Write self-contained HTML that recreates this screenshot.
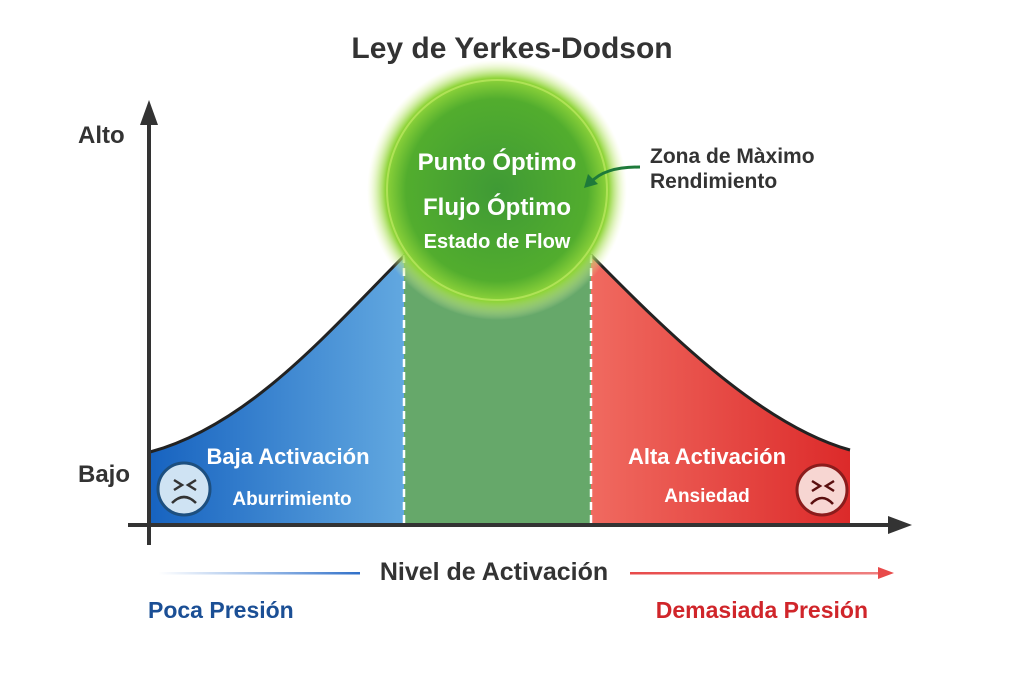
<!DOCTYPE html>
<html><head><meta charset="utf-8"><style>
body{margin:0;background:#fff;}
svg{display:block;font-family:"Liberation Sans",sans-serif;}
</style></head><body>
<svg width="1024" height="683" viewBox="0 0 1024 683">
<defs>
<linearGradient id="bl" x1="0" x2="1" y1="0" y2="0"><stop offset="0" stop-color="#1763c0"/><stop offset="1" stop-color="#62a8e0"/></linearGradient>
<linearGradient id="rd" x1="0" x2="1" y1="0" y2="0"><stop offset="0" stop-color="#f06a60"/><stop offset="1" stop-color="#dc2a2a"/></linearGradient>
<radialGradient id="gc" cx="0.5" cy="0.5" r="0.5"><stop offset="0" stop-color="#3f9a35"/><stop offset="0.7" stop-color="#52ad2e"/><stop offset="0.86" stop-color="#8fd43a"/><stop offset="1" stop-color="#e9f7b0" stop-opacity="0"/></radialGradient>
<linearGradient id="lb" gradientUnits="userSpaceOnUse" x1="158" y1="0" x2="360" y2="0"><stop offset="0" stop-color="#4a86d8" stop-opacity="0"/><stop offset="1" stop-color="#2f6fc8"/></linearGradient>
<linearGradient id="lr" gradientUnits="userSpaceOnUse" x1="630" y1="0" x2="880" y2="0"><stop offset="0" stop-color="#e84a4a"/><stop offset="1" stop-color="#e84a4a" stop-opacity="0.7"/></linearGradient>
</defs>
<text x="512" y="58" text-anchor="middle" font-size="30" font-weight="bold" fill="#333">Ley de Yerkes-Dodson</text>
<path d="M150,452 C250,425 330,330 405,255 L405,525 L150,525 Z" fill="url(#bl)"/>
<rect x="404" y="250" width="187" height="275" fill="#66a86a"/>
<path d="M591,255 C665,330 760,425 850,450 L850,525 L591,525 Z" fill="url(#rd)"/>
<path d="M150,452 C250,425 330,330 405,255" fill="none" stroke="#222" stroke-width="3"/>
<path d="M591,255 C665,330 760,425 850,450" fill="none" stroke="#222" stroke-width="3"/>
<line x1="404" y1="255" x2="404" y2="525" stroke="#fff" stroke-width="2.5" stroke-dasharray="8,5"/>
<line x1="591" y1="255" x2="591" y2="525" stroke="#fff" stroke-width="2.5" stroke-dasharray="8,5"/>
<circle cx="497" cy="190" r="130" fill="url(#gc)"/>
<circle cx="497" cy="190" r="110" fill="none" stroke="#c8ee6a" stroke-width="2" opacity="0.6"/>
<text x="497" y="170" text-anchor="middle" font-size="24" font-weight="bold" fill="#fff">Punto Óptimo</text>
<text x="497" y="215" text-anchor="middle" font-size="24" font-weight="bold" fill="#fff">Flujo Óptimo</text>
<text x="497" y="248" text-anchor="middle" font-size="20" font-weight="bold" fill="#fff">Estado de Flow</text>
<path d="M640,167 C615,167 600,172 590,183" fill="none" stroke="#1e7a3a" stroke-width="3"/>
<path d="M584,188 L588,174 L598,184 Z" fill="#1e7a3a"/>
<text x="650" y="163" font-size="21" font-weight="bold" fill="#333">Zona de Màximo</text>
<text x="650" y="188" font-size="21" font-weight="bold" fill="#333">Rendimiento</text>
<line x1="149" y1="545" x2="149" y2="115" stroke="#333" stroke-width="4"/>
<path d="M149,100 L140,125 L158,125 Z" fill="#333"/>
<line x1="128" y1="525" x2="895" y2="525" stroke="#333" stroke-width="4"/>
<path d="M912,525 L888,516 L888,534 Z" fill="#333"/>
<text x="78" y="143" font-size="24" font-weight="bold" fill="#333">Alto</text>
<text x="78" y="482" font-size="24" font-weight="bold" fill="#333">Bajo</text>
<text x="288" y="464" text-anchor="middle" font-size="22" font-weight="bold" fill="#fff">Baja Activación</text>
<text x="292" y="505" text-anchor="middle" font-size="19" font-weight="bold" fill="#fff">Aburrimiento</text>
<text x="707" y="464" text-anchor="middle" font-size="22" font-weight="bold" fill="#fff">Alta Activación</text>
<text x="707" y="502" text-anchor="middle" font-size="19" font-weight="bold" fill="#fff">Ansiedad</text>
<g>
<circle cx="184" cy="489" r="26" fill="#cfe3f3" stroke="#1d4f7f" stroke-width="3"/>
<path d="M174,480 l8,5 l-8,5 M196,480 l-8,5 l8,5 M172,503 q12,-12 24,0" fill="none" stroke="#333" stroke-width="2.5"/>
</g>
<g>
<circle cx="822" cy="490" r="25" fill="#f7d6d2" stroke="#8b1c1c" stroke-width="3"/>
<path d="M812,481 l8,5 l-8,5 M834,481 l-8,5 l8,5 M811,504 q11,-12 22,0" fill="none" stroke="#5a0f0f" stroke-width="2.5"/>
</g>
<rect x="158" y="572" width="202" height="2.5" fill="url(#lb)"/>
<text x="494" y="580" text-anchor="middle" font-size="25" font-weight="bold" fill="#333">Nivel de Activación</text>
<rect x="630" y="572" width="250" height="2.5" fill="url(#lr)"/>
<path d="M894,573 L878,567 L878,579 Z" fill="#e84a4a"/>
<text x="148" y="618" font-size="23" font-weight="bold" fill="#1b4f95">Poca Presión</text>
<text x="868" y="618" text-anchor="end" font-size="23" font-weight="bold" fill="#d0252a">Demasiada Presión</text>
</svg>
</body></html>
